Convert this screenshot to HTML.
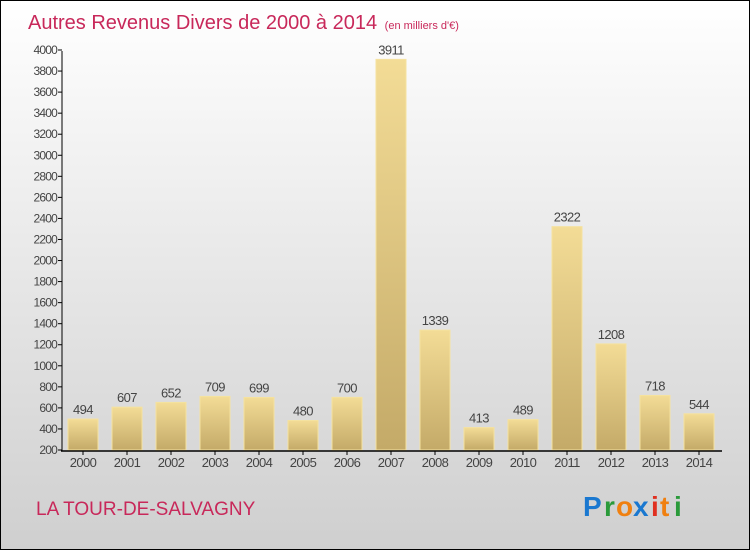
<!DOCTYPE html>
<html><head><meta charset="utf-8"><style>
body{margin:0}
#c{position:relative;width:748px;height:548px;border:1px solid #000;background:linear-gradient(#ffffff,#cfcfcf);overflow:hidden;font-family:"Liberation Sans",sans-serif}
</style></head><body>
<div id="c">
<svg width="748" height="548">
<defs><linearGradient id="g" x1="0" y1="0" x2="0" y2="1"><stop offset="0" stop-color="#f3dc96"/><stop offset="1" stop-color="#c4aa68"/></linearGradient></defs>
<text x="27" y="28" font-size="20" fill="#c8285a">Autres Revenus Divers de 2000 à 2014 <tspan font-size="11" dx="2">(en milliers d'€)</tspan></text>
<g id="plot"></g>
<text x="35" y="514" font-size="19" fill="#c8285a">LA TOUR-DE-SALVAGNY</text>
<g font-size="28" font-family="Liberation Sans, sans-serif" font-weight="bold">
<text x="582" y="515" fill="#1a78d0">P</text><text x="603" y="515" fill="#2a9a3a">r</text><text x="615" y="515" fill="#f08010">o</text><text x="632" y="515" fill="#1a78d0">x</text><text x="650" y="515" fill="#e03020">i</text><text x="659" y="515" fill="#f08010">t</text><text x="673" y="515" fill="#2a9a3a">i</text></g>
</svg></div>
<script>
const years=["2000","2001","2002","2003","2004","2005","2006","2007","2008","2009","2010","2011","2012","2013","2014"];
const values=[494,607,652,709,699,480,700,3911,1339,413,489,2322,1208,718,544];
const yTicks=[200,400,600,800,1000,1200,1400,1600,1800,2000,2200,2400,2600,2800,3000,3200,3400,3600,3800,4000];
const NS="http://www.w3.org/2000/svg",g=document.getElementById('plot');
const y=v=>449-(v-200)*400/3800, x=i=>60+22+44*i;
function mk(t,a){const e=document.createElementNS(NS,t);for(const k in a)e.setAttribute(k,a[k]);g.appendChild(e);return e;}
yTicks.forEach(v=>{const l=mk('line',{x1:57,x2:61,y1:y(v),y2:y(v),stroke:'#000'});


const t=mk('text',{x:56,y:y(v)+4,'font-size':12,'text-anchor':'end',fill:'#444','letter-spacing':'-0.8'});t.textContent=v;

});
values.forEach((v,i)=>{const r=mk('rect',{x:x(i)-15,y:y(v),width:30,height:449-y(v),fill:'url(#g)',stroke:'#f5e29f','stroke-width':1});


const t=mk('text',{x:x(i),y:y(v)-5,'font-size':13,'text-anchor':'middle',fill:'#444','letter-spacing':'-0.6'});t.textContent=v;


const k=mk('line',{x1:x(i),x2:x(i),y1:450,y2:454,stroke:'#000'});


const yl=mk('text',{x:x(i),y:466,'font-size':13,'text-anchor':'middle',fill:'#444','letter-spacing':'-0.6'});yl.textContent=years[i];

});
const ya=mk('line',{x1:61,x2:61,y1:50,y2:450,stroke:'#000'});


const xa=mk('line',{x1:60,x2:721,y1:450,y2:450,stroke:'#000','stroke-width':1.5});


</script>
</body></html>
